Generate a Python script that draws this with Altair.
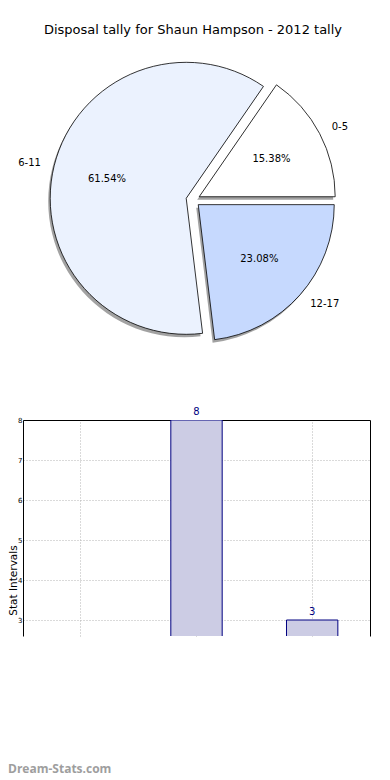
import altair as alt
import pandas as pd

# ---- data ----
chart_title = "Disposal tally for Shaun Hampson - 2012 tally"
categories = ["0-5", "6-11", "12-17"]
tallies = [2, 8, 3]
slice_colors = ["#ffffff", "#ebf2fe", "#c6d9fe"]
y_ticks = [3, 4, 5, 6, 7, 8]
y_min, y_max = 2.6, 8
y_title = "Stat Intervals"
watermark = "Dream-Stats.com"

df = pd.DataFrame({"cat": categories, "value": tallies, "idx": list(range(len(categories)))})
wm_df = pd.DataFrame({"t": [watermark]})

FONT = "DejaVu Sans"

# ---- pie geometry (style) ----
R = 136       # pie radius px
E = 7         # explode distance px
CX, CY = 170, 159
SHX, SHY = -2, 3

pie_base = (
    alt.Chart(df)
    .transform_joinaggregate(total="sum(value)")
    .transform_window(cum="sum(value)", sort=[alt.SortField("idx")], frame=[None, 0])
    .transform_calculate(
        m0="2*PI*(datum.cum - datum.value)/datum.total",
        m1="2*PI*datum.cum/datum.total",
    )
    .transform_calculate(
        mm="(datum.m0 + datum.m1)/2",
        a0="PI/2 - datum.m0",
        a1="PI/2 - datum.m1",
    )
    .transform_calculate(
        amid="PI/2 - datum.mm",
        cx=f"{CX} + {E}*cos(datum.mm)",
        cy=f"{CY} - {E}*sin(datum.mm)",
        pct="format(datum.value/datum.total*100, '.2f') + '%'",
        side="cos(datum.mm) >= 0 ? 'right' : 'left'",
    )
    .transform_calculate(
        sx=f"datum.cx + ({SHX})",
        sy=f"datum.cy + ({SHY})",
    )
)

xc = alt.X("cx:Q", scale=None, axis=None)
yc = alt.Y("cy:Q", scale=None, axis=None)
th = alt.Theta("a0:Q", scale=None, stack=None)
thm = alt.Theta("amid:Q", scale=None, stack=None)

shadow = pie_base.mark_arc(radius=R, fill="#555555", opacity=0.55).encode(
    x=alt.X("sx:Q", scale=None, axis=None),
    y=alt.Y("sy:Q", scale=None, axis=None),
    theta=th,
    theta2="a1:Q",
)
slices = pie_base.mark_arc(radius=R, stroke="black", strokeWidth=0.8).encode(
    x=xc,
    y=yc,
    theta=th,
    theta2="a1:Q",
    color=alt.Color("cat:N", scale=alt.Scale(domain=categories, range=slice_colors), legend=None),
)
pct_text = pie_base.mark_text(radius=R * 0.6, fontSize=10, font=FONT, color="black").encode(
    x=xc, y=yc, theta=thm, text="pct:N"
)
lab_right = (
    pie_base.transform_filter("datum.side == 'right'")
    .mark_text(radius=R * 1.1, fontSize=10, font=FONT, color="black", align="left", baseline="middle")
    .encode(x=xc, y=yc, theta=thm, text="cat:N")
)
lab_left = (
    pie_base.transform_filter("datum.side == 'left'")
    .mark_text(radius=R * 1.1, fontSize=10, font=FONT, color="black", align="right", baseline="middle")
    .encode(x=xc, y=yc, theta=thm, text="cat:N")
)

pie = alt.layer(shadow, slices, pct_text, lab_right, lab_left).properties(width=355, height=300)

# ---- bar chart ----
BAR_W, BAR_H = 347, 216
y_scale = alt.Scale(domain=[y_min, y_max], nice=False, zero=False)
x_enc = alt.X(
    "cat:N",
    sort=categories,
    scale=alt.Scale(paddingInner=0.556, paddingOuter=0.278),
    axis=alt.Axis(
        orient="top", labels=False, ticks=False, title=None,
        domainColor="black", domainWidth=1,
        grid=True, gridDash=[1, 2], gridColor="#b5b5b5", bandPosition=0.5,
    ),
)

bars = alt.Chart(df).mark_bar(fill="#ccccE4", stroke="#000080", strokeWidth=1, clip=True).encode(
    x=x_enc,
    y=alt.Y(
        "value:Q",
        scale=y_scale,
        axis=alt.Axis(
            orient="left", values=y_ticks, ticks=False, labelFontSize=7, labelFont=FONT,
            labelColor="black", labelPadding=1, domainColor="black", domainWidth=1,
            grid=True, gridDash=[1, 2], gridColor="#b5b5b5",
            title=y_title, titleFont=FONT, titleFontSize=10.5, titleFontWeight="normal",
            titleColor="black", titleX=-15, titleY=160, titleBaseline="top", titleAlign="center",
        ),
    ),
    y2=alt.datum(0),
)

bar_labels = (
    alt.Chart(df)
    .transform_filter(f"datum.value >= {y_min}")
    .mark_text(fontSize=10, font=FONT, color="#000080", baseline="bottom", dy=-3)
    .encode(
        x=alt.X("cat:N", sort=categories),
        y=alt.Y(
            "value:Q", scale=y_scale,
            axis=alt.Axis(orient="right", labels=False, ticks=False, grid=False, title=None,
                          domainColor="black", domainWidth=1),
        ),
        text="value:Q",
    )
)

wm = alt.Chart(wm_df).mark_text(
    font="Open Sans", fontSize=12, fontWeight="bold", color="#9e9e9e", align="left", baseline="middle"
).encode(text="t:N", x=alt.value(-15), y=alt.value(349))

bar_chart = (
    alt.layer(bars, bar_labels, wm)
    .resolve_axis(y="independent")
    .properties(width=BAR_W, height=BAR_H)
)

chart = (
    alt.vconcat(pie, bar_chart, spacing=64)
    .properties(
        title=alt.TitleParams(chart_title, font=FONT, fontSize=13, fontWeight="normal",
                              color="black", anchor="middle", offset=4),
        padding={"left": 0, "top": 16, "right": 0, "bottom": 2},
    )
    .configure_view(stroke=None)
)

chart.save("out.html", embed_options={"renderer": "svg", "actions": False})
